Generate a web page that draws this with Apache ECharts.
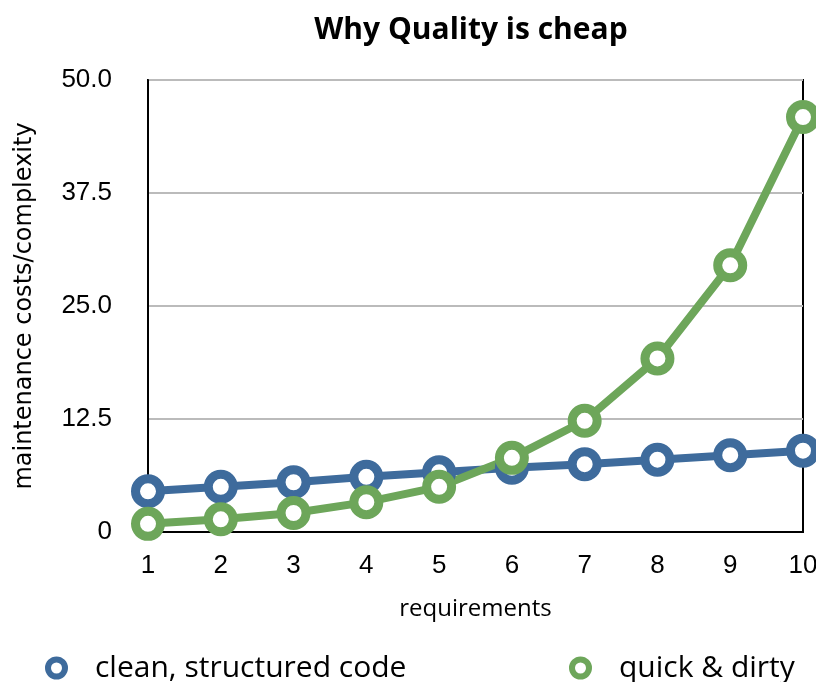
<!DOCTYPE html>
<html><head><meta charset="utf-8">
<script src="https://cdn.jsdelivr.net/npm/echarts@6/dist/echarts.min.js"></script>
<style>html,body{margin:0;padding:0;background:#fff}#c{width:816px;height:682px}</style>
</head><body><div id="c"></div>
<script>
const categories = ['1','2','3','4','5','6','7','8','9','10'];
const cleanCode = [4.5, 5.0, 5.5, 6.1, 6.6, 7.1, 7.5, 8.0, 8.5, 9.0];
const quickDirty = [0.9, 1.4, 2.1, 3.3, 5.0, 8.2, 12.3, 19.2, 29.5, 45.9];
const yTicks = [0, 12.5, 25, 37.5, 50];
const seriesNames = ['clean, structured code', 'quick & dirty'];
const colors = ['#3e6b9c', '#6da65a'];

const chart = echarts.init(document.getElementById('c'));
const mk = (name, data, color) => ({
  name, type: 'line', data,
  symbol: 'circle', symbolSize: 25, showAllSymbol: true,
  lineStyle: {color, width: 8},
  itemStyle: {color: '#fff', borderColor: color, borderWidth: 9},
  emphasis: {disabled: true}, z: 3
});
const legendText = {fontFamily: 'Open Sans', fontSize: 30, color: '#000', padding: [0, 0, 0, 25]};
chart.setOption({
  animation: false,
  title: {text: 'Why Quality is cheap', left: 466, top: 10, textAlign: 'center',
    textStyle: {fontFamily: 'Open Sans', fontWeight: 'bold', fontSize: 30, color: '#000'}},
  grid: {left: 148, right: 13, top: 80, bottom: 150, show: true, borderColor: '#000', borderWidth: 2,
    containLabel: false, outerBoundsMode: 'none'},
  legend: [
    {data: [{name: seriesNames[0], itemStyle: {color: '#fff', borderColor: colors[0], borderWidth: 6}}],
     left: 40, top: 648, icon: 'circle', itemWidth: 17, itemHeight: 17, textStyle: legendText},
    {data: [{name: seriesNames[1], itemStyle: {color: '#fff', borderColor: colors[1], borderWidth: 6}}],
     left: 564, top: 648, icon: 'circle', itemWidth: 17, itemHeight: 17, textStyle: legendText}
  ],
  xAxis: {type: 'category', data: categories, boundaryGap: false,
    name: 'requirements', nameLocation: 'middle', nameGap: 65,
    nameTextStyle: {fontFamily: 'Open Sans', fontSize: 24, color: '#000'},
    axisLine: {show: true, lineStyle: {color: '#000', width: 2}},
    axisTick: {show: false},
    axisLabel: {fontFamily: 'Liberation Sans', fontSize: 26, color: '#000', margin: 21}},
  yAxis: {type: 'value', min: yTicks[0], max: yTicks[yTicks.length-1], interval: 12.5,
    name: 'maintenance costs/complexity', nameLocation: 'middle', nameGap: 111,
    nameTextStyle: {fontFamily: 'DejaVu Sans', fontSize: 24, color: '#000'},
    axisLine: {show: true, lineStyle: {color: '#000', width: 2}},
    axisTick: {show: false},
    splitLine: {lineStyle: {color: '#bbbbbb', width: 2}},
    axisLabel: {fontFamily: 'Liberation Sans', fontSize: 26, color: '#000', margin: 36,
      formatter: v => v === 0 ? '0' : v.toFixed(1)}},
  series: [mk(seriesNames[0], cleanCode, colors[0]), mk(seriesNames[1], quickDirty, colors[1])]
});
</script></body></html>
